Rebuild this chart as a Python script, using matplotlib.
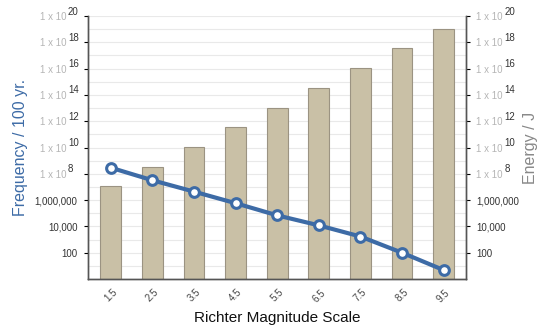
import numpy as np
import matplotlib
matplotlib.use("Agg")
import matplotlib.pyplot as plt
from matplotlib.ticker import FixedLocator, FixedFormatter, NullFormatter
from matplotlib.transforms import ScaledTranslation

plt.rcParams['font.family'] = ['Liberation Sans', 'DejaVu Sans']

# data
magnitudes = ['1.5', '2.5', '3.5', '4.5', '5.5', '6.5', '7.5', '8.5', '9.5']
frequency = [2.9e8, 3.2e7, 4.4e6, 5.8e5, 6.9e4, 1.2e4, 1.7e3, 100, 4.8]
energy = [1.1e7, 3.5e8, 1.1e10, 3.5e11, 1.1e13, 3.5e14, 1.1e16, 3.5e17, 1.1e19]
tick_exps = [2, 4, 6, 8, 10, 12, 14, 16, 18, 20]

blue = '#3d6ba6'
bar_fill = '#c9c0a6'
bar_edge = '#9b9382'
light = '#b5b5b5'
dark = '#333333'

fig = plt.figure(figsize=(5.48, 3.28), dpi=100)
ax = fig.add_axes([0.1606, 0.1494, 0.6898, 0.8018])
ax2 = ax.twinx()

x = np.arange(len(magnitudes))

# bars (energy) on the right axis, drawn below the line axis
ax2.bar(x, energy, width=0.5, color=bar_fill, edgecolor=bar_edge, linewidth=0.8, zorder=2)
ax.plot(x, frequency, color=blue, linewidth=3, marker='o', markersize=7,
        markerfacecolor='white', markeredgecolor=blue, markeredgewidth=2.2, zorder=3)
ax.set_zorder(ax2.get_zorder() + 1)
ax.patch.set_visible(False)

for a in (ax, ax2):
    a.set_yscale('log')
    a.set_ylim(1, 1e20)
    a.set_xlim(-0.55, 8.54)
    a.yaxis.set_major_locator(FixedLocator([10.0 ** e for e in tick_exps]))
    a.yaxis.set_minor_locator(FixedLocator([10.0 ** e for e in range(1, 20, 2)]))
    a.yaxis.set_minor_formatter(NullFormatter())
    a.tick_params(axis='y', which='minor', length=0)
    a.tick_params(axis='y', which='major', length=3, width=0.8, pad=4.5, labelsize=7)
    a.spines['top'].set_visible(False)
    for s in ('left', 'right', 'bottom'):
        a.spines[s].set_color('#555555')
        a.spines[s].set_linewidth(1.0)

# gridlines every decade behind the bars
ax2.grid(True, which='both', axis='y', color='#e9e9e9', linewidth=0.8, zorder=0)
ax2.set_axisbelow(True)

labels = []
for e in tick_exps:
    if e < 8:
        labels.append(f"{10 ** e:,}")
    else:
        labels.append("1 x 10")
ax.yaxis.set_major_formatter(FixedFormatter(labels))
ax2.yaxis.set_major_formatter(FixedFormatter(labels))

ax.set_xticks(x)
ax.set_xticklabels(magnitudes, rotation=45, ha='center', va='top', fontsize=7, color='#444444')
ax.tick_params(axis='x', length=0, pad=6)
ax2.tick_params(axis='x', length=0)

ax.set_xlabel('Richter Magnitude Scale', fontsize=11, color='#111111', labelpad=5)
ax.set_ylabel('Frequency / 100 yr.', fontsize=11.5, color=blue, labelpad=5)
ax2.set_ylabel('Energy / J', fontsize=11.5, color='#888888', labelpad=3)

fig.canvas.draw()

# exponent labels: gray mantissa, dark superscript
shift = ScaledTranslation(-11 / 100, 0, fig.dpi_scale_trans)
for tick, e in zip(ax.yaxis.get_major_ticks(), tick_exps):
    lab = tick.label1
    if e >= 8:
        lab.set_color(light)
        lab.set_transform(lab.get_transform() + shift)
        ax.annotate(str(e), xy=(1, 0.55), xycoords=lab, xytext=(1, 0),
                    textcoords='offset points', ha='left', va='bottom', fontsize=7, color=dark)
    else:
        lab.set_color(dark)

for tick, e in zip(ax2.yaxis.get_major_ticks(), tick_exps):
    lab = tick.label2
    if e >= 8:
        lab.set_color(light)
        ax2.annotate(str(e), xy=(1, 0.55), xycoords=lab, xytext=(1, 0),
                     textcoords='offset points', ha='left', va='bottom', fontsize=7, color=dark)
    else:
        lab.set_color(dark)

fig.savefig('out.png', dpi=100)
